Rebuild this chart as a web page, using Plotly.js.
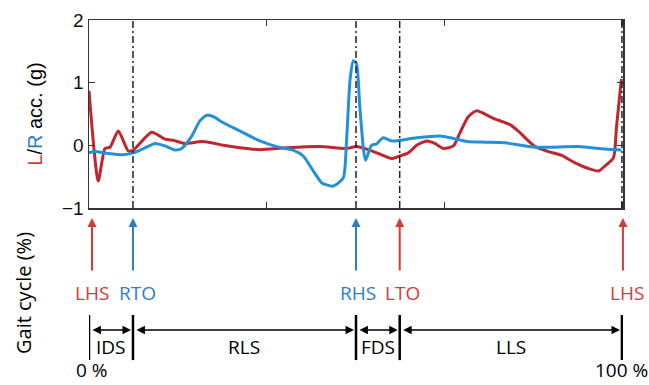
<!DOCTYPE html>
<html>
<head>
<meta charset="utf-8">
<script src="https://cdn.plot.ly/plotly-3.0.1.min.js"></script>
<style>html,body{margin:0;padding:0;background:#fff;}#chart{width:649px;height:385px;}</style>
</head>
<body>
<div id="chart"></div>
<script>
// Gait cycle (%) positions and accelerations (g)
const redX = [0,1.74,3.0,3.94,5.5,7.37,8.3,11.76,14.26,15.8,18.0,21.1,23.0,25.2,28.3,32.1,37.1,43.3,48.3,50.2,52.1,54.6,56.8,58.3,59.9,61.5,63.4,64.9,66.5,68.4,69.6,71.2,72.7,75.2,76.2,79.0,80.5,83.7,86.2,88.7,91.2,93.7,95.6,96.8,98.4,99.0,99.9];
const redY = [0.87,-0.57,-0.05,-0.03,0.23,-0.09,-0.075,0.21,0.10,0.08,0.03,0.06,0.04,0.0,-0.04,-0.07,-0.04,-0.02,-0.05,-0.02,-0.06,-0.14,-0.21,-0.17,-0.12,0.0,0.07,0.03,-0.05,-0.01,0.2,0.46,0.55,0.46,0.42,0.33,0.23,-0.02,-0.10,-0.16,-0.28,-0.37,-0.41,-0.33,-0.20,0.31,1.06];
const blueX = [0,1.1,3.6,6.4,8.3,10.5,12.4,14.3,16.2,17.4,19.3,20.8,22.1,23.3,25.2,28.3,32.1,35.2,38.3,40.2,42.1,43.7,45.8,47.7,48.3,49.0,49.6,50.2,50.8,51.5,51.9,53.0,53.9,55.2,56.8,58.3,61.5,65.9,68.4,70.9,74.3,78.1,83.7,91.8,96.8,99.9];
const blueY = [-0.12,-0.10,-0.13,-0.15,-0.12,-0.04,0.03,-0.01,-0.075,-0.05,0.15,0.39,0.48,0.46,0.36,0.23,0.07,-0.02,-0.075,-0.17,-0.41,-0.60,-0.65,-0.52,0.04,1.06,1.35,1.30,0.63,-0.06,-0.24,0.0,0.02,0.12,0.07,0.08,0.12,0.15,0.11,0.06,0.05,0.04,-0.03,-0.02,-0.06,-0.075];

const eventX = [0, 8.25, 50.1, 58.3, 100];
const eventLabels = ['LHS', 'RTO', 'RHS', 'LTO', 'LHS'];
const eventSide = ['L', 'R', 'R', 'L', 'L'];
const phaseLabels = ['IDS', 'RLS', 'FDS', 'LLS'];
const cycleLabels = ['0 %', '100 %'];
const xTicks = [0, 33.333, 66.667, 100];
const yTicks = [-1, 0, 1, 2];

const RED_LINE = '#c0262d', BLUE_LINE = '#2490d8';
const RED_TXT = '#d63a34', BLUE_TXT = '#2f7dc3';
const sideColor = s => s === 'L' ? RED_TXT : BLUE_TXT;

const traces = [
  {x: redX, y: redY, type: 'scatter', mode: 'lines', line: {color: RED_LINE, width: 3, shape: 'spline', smoothing: 0.6}, hoverinfo: 'skip'},
  {x: blueX, y: blueY, type: 'scatter', mode: 'lines', line: {color: BLUE_LINE, width: 3, shape: 'spline', smoothing: 0.6}, hoverinfo: 'skip'}
];

const shapes = [];
const annotations = [];
const labelShift = [3, 5, 2, 3, 5];
const arrowShift = [3, 0, 0, 0, 1];

eventX.forEach((ex, i) => {
  if (i > 0) {
    shapes.push({type: 'line', xref: 'x', yref: 'paper', x0: ex, x1: ex, y0: 0, y1: 1,
      line: {color: '#222', width: 1.5, dash: '7px,3px,2px,3px'}, layer: 'above'});
  }
  annotations.push({xref: 'x', yref: 'paper', x: ex, y: -0.053, text: '', showarrow: true,
    ax: 0, ay: 54, axref: 'pixel', ayref: 'pixel', arrowhead: 2, arrowsize: 0.9, arrowwidth: 2,
    arrowcolor: sideColor(eventSide[i]), xshift: arrowShift[i], standoff: 0});
  annotations.push({xref: 'x', yref: 'paper', x: ex, y: -0.452, text: eventLabels[i], showarrow: false,
    xanchor: 'center', yanchor: 'middle', xshift: labelShift[i],
    font: {family: 'Open Sans', size: 19, color: sideColor(eventSide[i])}});
  shapes.push({type: 'line', xref: 'x', yref: 'paper', x0: ex, x1: ex, y0: -0.569, y1: -0.809,
    line: {color: '#000', width: 2.5}});
});

phaseLabels.forEach((p, i) => {
  const a = eventX[i], b = eventX[i + 1];
  annotations.push({xref: 'x', yref: 'paper', x: b, y: -0.649, ax: a, ay: 0, axref: 'x', ayref: 'pixel',
    text: '', showarrow: true, arrowside: 'end+start', arrowhead: 2, arrowsize: 1.3, arrowwidth: 1.3,
    arrowcolor: '#000', standoff: 2, startstandoff: 2});
  annotations.push({xref: 'x', yref: 'paper', x: (a + b) / 2, y: -0.742, text: p, showarrow: false,
    xanchor: 'center', yanchor: 'middle', font: {family: 'Open Sans', size: 19, color: '#000'}});
});

annotations.push({xref: 'x', yref: 'paper', x: eventX[0], y: -0.936, text: cycleLabels[0], showarrow: false,
  xanchor: 'center', yanchor: 'bottom', xshift: 3, borderpad: 0, font: {family: 'Open Sans', size: 19, color: '#000'}});
annotations.push({xref: 'x', yref: 'paper', x: eventX[4], y: -0.936, text: cycleLabels[1], showarrow: false,
  xanchor: 'center', yanchor: 'bottom', xshift: 0, borderpad: 0, font: {family: 'Open Sans', size: 19, color: '#000'}});
annotations.push({xref: 'paper', yref: 'paper', x: -0.1217, y: -0.452, text: 'Gait cycle (%)', showarrow: false,
  textangle: -90, xanchor: 'center', yanchor: 'middle', font: {family: 'Open Sans', size: 20, color: '#000'}});

const layout = {
  width: 649, height: 385,
  margin: {l: 89, r: 26, t: 20, b: 177},
  paper_bgcolor: '#fff', plot_bgcolor: '#fff',
  showlegend: false,
  font: {family: 'Liberation Sans, Arial, sans-serif', size: 19, color: '#000'},
  xaxis: {range: [0, 100.2], tickvals: xTicks, ticktext: xTicks.map(() => ''), ticks: 'inside', ticklen: 6,
    tickwidth: 1.2, tickcolor: '#333', showgrid: false, zeroline: false, showline: true, linecolor: '#333',
    linewidth: 1.5, mirror: 'ticks', fixedrange: true},
  yaxis: {range: [-1, 2], tickvals: yTicks, ticks: 'inside', ticklen: 6, tickwidth: 1.2, tickcolor: '#333',
    showgrid: false, zeroline: false, showline: true, linecolor: '#333', linewidth: 1.5, mirror: 'ticks',
    tickfont: {family: 'Liberation Sans, Arial, sans-serif', size: 19, color: '#111'},
    title: {text: '<span style="color:' + RED_TXT + '">L</span>/<span style="color:' + BLUE_TXT + '">R</span> acc. (g)',
      font: {family: 'Liberation Sans, Arial, sans-serif', size: 20, color: '#000'}, standoff: 14},
    fixedrange: true},
  shapes: shapes,
  annotations: annotations
};

Plotly.newPlot('chart', traces, layout, {staticPlot: true, displayModeBar: false});
</script>
</body>
</html>
